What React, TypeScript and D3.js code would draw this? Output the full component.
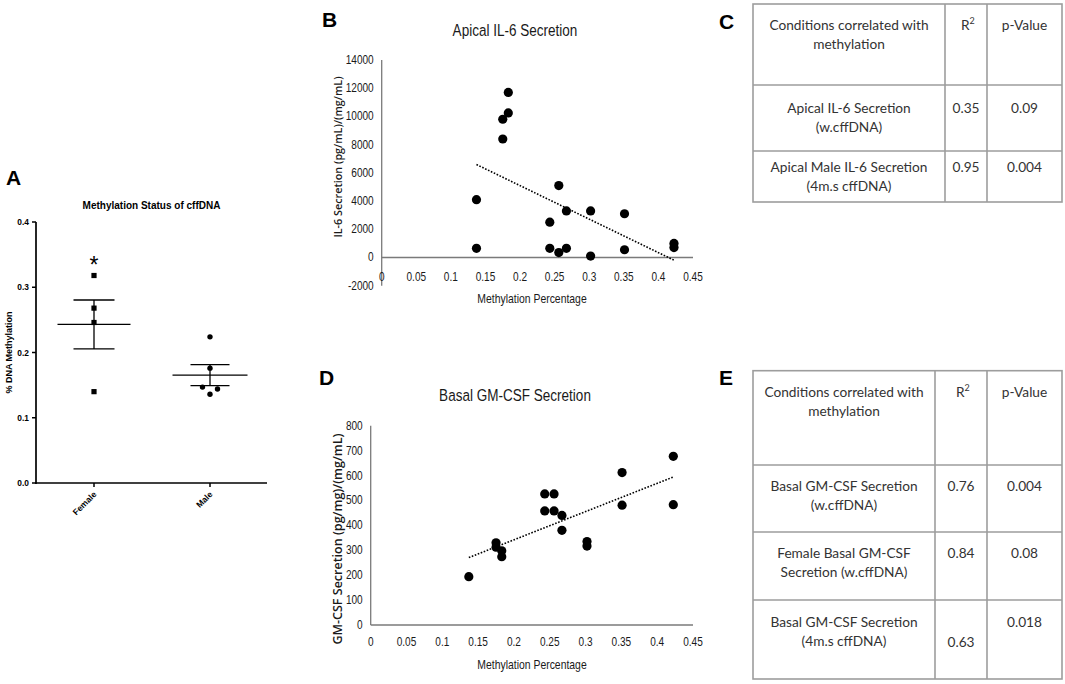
import React from 'react';
import * as d3 from 'd3';

// ---------- Panel A data ----------
const groupLabels = ['Female', 'Male'];
const femaleValues = [0.318, 0.268, 0.246, 0.14];
const maleValues = [0.224, 0.176, 0.147, 0.144, 0.136];
const femaleJitter = [0, 0, 0, 0];
const maleJitter = [0, 0, -1, 1, 0];
const aTicks = [0, 0.1, 0.2, 0.3, 0.4];

// ---------- Panel B data ----------
const il6X = [0.137, 0.137, 0.175, 0.175, 0.183, 0.183, 0.243, 0.243, 0.256, 0.256, 0.267, 0.267, 0.302, 0.302, 0.351, 0.351, 0.4225, 0.4225];
const il6Y = [4100, 650, 9800, 8400, 11700, 10250, 2500, 650, 5100, 350, 3300, 650, 3300, 100, 3100, 550, 1000, 700];
const il6Ticks = [-2000, 0, 2000, 4000, 6000, 8000, 10000, 12000, 14000];

// ---------- Panel D data ----------
const gmX = [0.137, 0.175, 0.175, 0.183, 0.183, 0.243, 0.243, 0.256, 0.256, 0.267, 0.267, 0.302, 0.302, 0.351, 0.351, 0.4225, 0.4225];
const gmY = [194, 330, 312, 298, 274, 526, 458, 526, 458, 440, 380, 335, 317, 612, 481, 677, 483];
const gmTicks = [0, 100, 200, 300, 400, 500, 600, 700, 800];

const methTicks = [0, 0.05, 0.1, 0.15, 0.2, 0.25, 0.3, 0.35, 0.4, 0.45];

// ---------- Tables ----------
const tableHeader = ['Conditions correlated with', 'methylation'];
const tableCConditions = [
  ['Apical IL-6 Secretion', '(w.cffDNA)'],
  ['Apical Male IL-6 Secretion', '(4m.s cffDNA)'],
];
const tableCR2 = ['0.35', '0.95'];
const tableCP = ['0.09', '0.004'];

const tableEConditions = [
  ['Basal GM-CSF Secretion', '(w.cffDNA)'],
  ['Female Basal GM-CSF', 'Secretion (w.cffDNA)'],
  ['Basal GM-CSF Secretion', '(4m.s cffDNA)'],
];
const tableER2 = ['0.76', '0.84', '0.63'];
const tableEP = ['0.004', '0.08', '0.018'];

function regression(xs: number[], ys: number[]) {
  const mx = d3.mean(xs)!;
  const my = d3.mean(ys)!;
  let sxy = 0, sxx = 0;
  xs.forEach((x, i) => { sxy += (x - mx) * (ys[i] - my); sxx += (x - mx) * (x - mx); });
  const slope = sxy / sxx;
  const intercept = my - slope * mx;
  return (x: number) => intercept + slope * x;
}

const fmtMeth = (v: number) => (v === 0 ? '0' : String(+v.toFixed(2)));

const ARIAL = '"Liberation Sans", Arial, sans-serif';
const TABLEFONT = 'Lato, "Open Sans", sans-serif';

// narrow text (Arial-metric font compressed horizontally, like Arial Narrow / Calibri)
function NText(props: { x: number; y: number; size: number; anchor?: string; children: React.ReactNode }) {
  return (
    <text transform={`translate(${props.x},${props.y}) scale(0.82,1)`} fontSize={props.size}
      textAnchor={props.anchor || 'start'} fontFamily={ARIAL}>{props.children}</text>
  );
}

function PanelA() {
  const x = d3.scalePoint<string>().domain(groupLabels).range([94, 210]);
  const y = d3.scaleLinear().domain([0, 0.4]).range([483, 222]);
  const x0 = 36, x1 = 267;
  const groups = [
    { label: 'Female', values: femaleValues, jitter: femaleJitter, shape: 'square', meanHalf: 36.5, capHalf: 20.5 },
    { label: 'Male', values: maleValues, jitter: maleJitter, shape: 'circle', meanHalf: 37.5, capHalf: 19.5 },
  ];
  return (
    <g fontFamily={ARIAL} fontWeight="bold">
      <text x={6} y={185} fontSize={21}>A</text>
      <text x={(x0 + x1) / 2} y={209} fontSize={10} textAnchor="middle">Methylation Status of cffDNA</text>
      <text transform={`translate(12,${(y(0) + y(0.4)) / 2}) rotate(-90)`} fontSize={9} textAnchor="middle">% DNA Methylation</text>
      <line x1={x0} x2={x0} y1={y(0.4)} y2={y(0) + 1} stroke="#000" strokeWidth={1.7} />
      <line x1={x0 - 1} x2={x1} y1={y(0)} y2={y(0)} stroke="#000" strokeWidth={1.7} />
      {aTicks.map(t => (
        <g key={t}>
          <line x1={x0 - 4} x2={x0} y1={y(t)} y2={y(t)} stroke="#000" strokeWidth={1.5} />
          <text x={x0 - 7} y={y(t) + 3} fontSize={8.4} textAnchor="end">{t.toFixed(1)}</text>
        </g>
      ))}
      {groupLabels.map(g => (
        <g key={g}>
          <line x1={x(g)} x2={x(g)} y1={y(0)} y2={y(0) + 4} stroke="#000" strokeWidth={1.5} />
          <text transform={`translate(${x(g)! + 3},${y(0) + 12}) rotate(-45)`} fontSize={8.5} textAnchor="end">{g}</text>
        </g>
      ))}
      {groups.map(gr => {
        const cx = x(gr.label)!;
        const m = d3.mean(gr.values)!;
        const sem = d3.deviation(gr.values)! / Math.sqrt(gr.values.length);
        return (
          <g key={gr.label}>
            <line x1={cx - gr.meanHalf} x2={cx + gr.meanHalf} y1={y(m)} y2={y(m)} stroke="#000" strokeWidth={1.3} />
            <line x1={cx} x2={cx} y1={y(m + sem)} y2={y(m - sem)} stroke="#000" strokeWidth={1.3} />
            <line x1={cx - gr.capHalf} x2={cx + gr.capHalf} y1={y(m + sem)} y2={y(m + sem)} stroke="#000" strokeWidth={1.3} />
            <line x1={cx - gr.capHalf} x2={cx + gr.capHalf} y1={y(m - sem)} y2={y(m - sem)} stroke="#000" strokeWidth={1.3} />
            {gr.values.map((v, i) => gr.shape === 'square'
              ? <rect key={i} x={cx + gr.jitter[i] * 7.5 - 2.6} y={y(v) - 2.6} width={5.2} height={5.2} fill="#000" />
              : <circle key={i} cx={cx + gr.jitter[i] * 7.5} cy={y(v)} r={2.7} fill="#000" />)}
          </g>
        );
      })}
      <text x={x('Female')} y={y(d3.max(femaleValues)!) - 3} fontSize={23} textAnchor="middle" fontWeight="normal">*</text>
    </g>
  );
}

function Scatter(props: {
  xs: number[]; ys: number[]; yDomain: [number, number]; yRange: [number, number]; xRange: [number, number];
  yTicks: number[]; title: string; titleY: number; yLabel: string; yLabelPos: [number, number]; yLabelSize: number;
  xLabelY: number; xTickY: number; letter: string; letterPos: [number, number];
}) {
  const { xs, ys } = props;
  const x = d3.scaleLinear().domain([0, 0.45]).range(props.xRange);
  const y = d3.scaleLinear().domain(props.yDomain).range(props.yRange);
  const fit = regression(xs, ys);
  const xmin = d3.min(xs)!, xmax = d3.max(xs)!;
  const axisColor = '#7a7a7a';
  return (
    <g fill="#1a1a1a">
      <text x={props.letterPos[0]} y={props.letterPos[1]} fontSize={21} fontWeight="bold" fontFamily={ARIAL} fill="#000">{props.letter}</text>
      <NText x={515} y={props.titleY} size={16.5} anchor="middle">{props.title}</NText>
      <text transform={`translate(${props.yLabelPos[0]},${props.yLabelPos[1]}) rotate(-90)`} fontSize={props.yLabelSize}
        fontFamily={'"Open Sans", "DejaVu Sans", sans-serif'} fontWeight={600} textAnchor="middle">{props.yLabel}</text>
      <NText x={532} y={props.xLabelY} size={12.7} anchor="middle">Methylation Percentage</NText>
      <line x1={x(0)} x2={x(0)} y1={y(props.yDomain[1])} y2={y(props.yDomain[0])} stroke={axisColor} strokeWidth={1.3} />
      <line x1={x(0)} x2={x(0.45)} y1={y(0)} y2={y(0)} stroke={axisColor} strokeWidth={1.3} />
      {props.yTicks.map(t => (
        <NText key={t} x={x(0) - 8} y={y(t) + 4} size={12.3} anchor="end">{t}</NText>
      ))}
      {methTicks.map(t => (
        <NText key={t} x={x(t)} y={props.xTickY} size={12.3} anchor="middle">{fmtMeth(t)}</NText>
      ))}
      {xs.map((v, i) => <circle key={i} cx={x(v)} cy={y(ys[i])} r={4.6} fill="#000" />)}
      <line x1={x(xmin)} x2={x(xmax)} y1={y(fit(xmin))} y2={y(fit(xmax))} stroke="#000" strokeWidth={1.6} strokeDasharray="1.6,1.6" />
    </g>
  );
}

function Table(props: {
  letter: string; letterPos: [number, number]; cols: number[]; rows: number[];
  conditions: string[][]; r2: string[]; p: string[]; firstLine: number[]; r2Line: number[]; pLine: number[];
}) {
  const { cols, rows } = props;
  const lh = 19;
  const c1 = (cols[0] + cols[1]) / 2, c2 = (cols[1] + cols[2]) / 2, c3 = (cols[2] + cols[3]) / 2;
  const stroke = '#9d9d9d';
  return (
    <g fontFamily={TABLEFONT} fill="#333" fontSize={13.7} fontWeight={400}>
      <text x={props.letterPos[0]} y={props.letterPos[1]} fontSize={21} fontWeight="bold" fontFamily={ARIAL} fill="#000">{props.letter}</text>
      <rect x={cols[0]} y={rows[0]} width={cols[3] - cols[0]} height={rows[rows.length - 1] - rows[0]} fill="none" stroke={stroke} strokeWidth={1.6} />
      {cols.slice(1, 3).map((c, i) => <line key={i} x1={c} x2={c} y1={rows[0]} y2={rows[rows.length - 1]} stroke={stroke} strokeWidth={1.6} />)}
      {rows.slice(1, rows.length - 1).map((r, i) => <line key={i} x1={cols[0]} x2={cols[3]} y1={r} y2={r} stroke={stroke} strokeWidth={1.6} />)}
      {tableHeader.map((t, i) => <text key={i} x={c1} y={rows[0] + 26 + i * lh} textAnchor="middle">{t}</text>)}
      <text x={c2 - 5} y={rows[0] + 26}>R<tspan fontSize={9} dy={-6}>2</tspan></text>
      <text x={c3} y={rows[0] + 26} textAnchor="middle">p-Value</text>
      {props.conditions.map((lines, ri) => (
        <g key={ri}>
          {lines.map((t, li) => <text key={li} x={c1} y={rows[ri + 1] + props.firstLine[ri] + li * lh} textAnchor="middle">{t}</text>)}
          <text x={c2} y={rows[ri + 1] + props.r2Line[ri]} textAnchor="middle">{props.r2[ri]}</text>
          <text x={c3} y={rows[ri + 1] + props.pLine[ri]} textAnchor="middle">{props.p[ri]}</text>
        </g>
      ))}
    </g>
  );
}

export default function App() {
  return (
    <svg width={1065} height={684} style={{ position: 'absolute', left: 0, top: 0, background: '#fff' }}>
      <rect width={1065} height={684} fill="#fff" />
      <PanelA />
      <Scatter xs={il6X} ys={il6Y} yDomain={[-2000, 14000]} yRange={[285.7, 60]} xRange={[381.7, 693]}
        yTicks={il6Ticks} title="Apical IL-6 Secretion" titleY={36} yLabel="IL-6 Secretion (pg/mL)/(mg/mL)"
        yLabelPos={[342, 157]} yLabelSize={10.8} xLabelY={303} xTickY={281} letter="B" letterPos={[322, 27]} />
      <Scatter xs={gmX} ys={gmY} yDomain={[0, 800]} yRange={[625, 425.7]} xRange={[370.7, 693]}
        yTicks={gmTicks} title="Basal GM-CSF Secretion" titleY={401} yLabel="GM-CSF Secretion (pg/mg)/(mg/mL)"
        yLabelPos={[342, 539]} yLabelSize={12.5} xLabelY={669} xTickY={646} letter="D" letterPos={[319, 385]} />
      <Table letter="C" letterPos={[719, 29]} cols={[753, 945, 987, 1062]} rows={[4, 85, 151, 202]}
        conditions={tableCConditions} r2={tableCR2} p={tableCP} firstLine={[28, 21]} r2Line={[28, 21]} pLine={[28, 21]} />
      <Table letter="E" letterPos={[719, 385]} cols={[753, 935, 987, 1062]} rows={[370.7, 465, 532, 600, 679]}
        conditions={tableEConditions} r2={tableER2} p={tableEP} firstLine={[26, 26, 27]} r2Line={[26, 26, 47]} pLine={[26, 26, 27]} />
    </svg>
  );
}
